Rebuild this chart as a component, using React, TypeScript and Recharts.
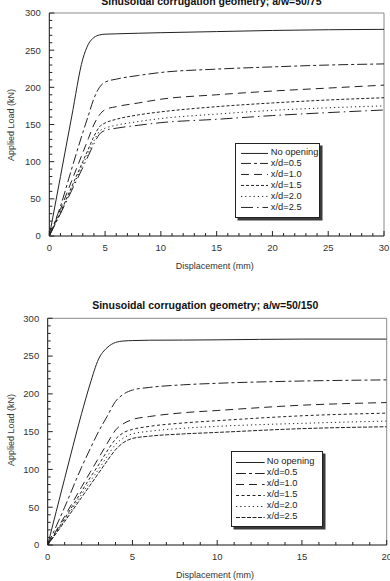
import React from 'react';
import { LineChart, Line, XAxis, YAxis, ReferenceLine, Legend } from 'recharts';

const FONT = '"Liberation Sans", Arial, Helvetica, sans-serif';

// ---- a/w = 50/75 : displacement (mm) and applied load (kN) ----
const dispA = [0, 1, 2, 3, 3.5, 4, 4.5, 5, 6, 8, 10, 15, 20, 25, 30];
const noOpeningA = [0, 80, 160, 238, 258, 267, 270.5, 271.5, 272, 272.8, 273.5, 275, 276.5, 277.5, 278];
const xd05A = [0, 40, 90, 139, 162, 185, 200, 207, 211, 216, 220, 224.5, 227.5, 230, 231.5];
const xd10A = [0, 36, 74, 112, 131, 150, 163, 170, 174, 179, 184, 190, 195, 199, 203];
const xd15A = [0, 32, 66, 100, 117, 134, 147, 152, 157, 163, 167, 174, 179, 183, 186];
const xd20A = [0, 31, 63, 96, 112, 128, 141, 145, 149, 154, 158, 164, 169, 172.5, 175];
const xd25A = [0, 30, 61, 92, 108, 124, 137, 142, 145, 149, 152.5, 157, 162, 166, 169.5];

// ---- a/w = 50/150 ----
const dispB = [0, 1, 2, 2.5, 3, 3.5, 4, 4.5, 5, 6, 8, 10, 15, 20];
const noOpeningB = [0, 88, 174, 213, 246, 261, 268, 270, 270.5, 271, 271.2, 271.5, 272.5, 272.5];
const xd05B = [0, 50, 103, 127, 150, 170, 190, 200, 205, 208.5, 212, 214, 217, 218.5];
const xd10B = [0, 38, 77, 96, 115, 134, 152, 161, 166, 170, 175, 178, 185, 188.5];
const xd15B = [0, 35, 71, 89, 106, 124, 140, 149, 153, 157, 161.5, 164.5, 171, 174.5];
const xd20B = [0, 33, 67, 84, 100, 117, 133, 142, 147, 150.5, 154.5, 157, 161, 164];
const xd25B = [0, 31, 63, 79, 95, 111, 126, 136, 141, 144, 147, 149, 154, 156.5];

const seriesNames = ['No opening', 'x/d=0.5', 'x/d=1.0', 'x/d=1.5', 'x/d=2.0', 'x/d=2.5'];
const dashesA = ['', '10 3 3 3', '8 5', '3 2', '1.2 3', '12 4 1.5 4'];
const dashesB = ['', '10 3 3 3', '8 5', '3 2.5', '1.2 3', '4 1.5'];

const yTicks = Array.from({ length: 31 }, (_, i) => i * 10);
const xTicksA = Array.from({ length: 31 }, (_, i) => i);
const xTicksB = Array.from({ length: 21 }, (_, i) => i);

function buildRows(disp: number[], series: number[][]) {
  return disp.map((x, i) => {
    const row: Record<string, number> = { x };
    series.forEach((s, k) => {
      row['s' + k] = s[i];
    });
    return row;
  });
}

const rowsA = buildRows(dispA, [noOpeningA, xd05A, xd10A, xd15A, xd20A, xd25A]);
const rowsB = buildRows(dispB, [noOpeningB, xd05B, xd10B, xd15B, xd20B, xd25B]);

function XTick(props: any) {
  const { x, y, payload } = props;
  const v = payload.value;
  const major = v % 5 === 0;
  return (
    <g>
      <line x1={x} x2={x} y1={y} y2={y - (major ? 5 : 3)} stroke="#222" strokeWidth={1} />
      {major && (
        <text x={x} y={y + 14.7} textAnchor="middle" fontSize={9.5} fill="#333" fontFamily={FONT}>
          {v}
        </text>
      )}
    </g>
  );
}

function YTick(props: any) {
  const { x, y, payload } = props;
  const v = payload.value;
  const major = v % 50 === 0;
  return (
    <g>
      <line x1={x} x2={x + (major ? 5 : 3)} y1={y} y2={y} stroke="#222" strokeWidth={1} />
      {major && (
        <text x={x - 8.5} y={y + 3.4} textAnchor="end" fontSize={9.5} fill="#333" fontFamily={FONT}>
          {v}
        </text>
      )}
    </g>
  );
}

type LegendBox = {
  left: number; top: number; w: number; h: number;
  padLeft: number; padTop: number; row: number; sample: number; gap: number;
};

type PanelProps = {
  top: number;
  height: number;
  margin: { top: number; right: number; left: number; bottom: number };
  yAxisWidth: number;
  rows: Record<string, number>[];
  xMax: number;
  xTicks: number[];
  dashes: string[];
  title: string;
  titleX: number;
  titleTop: number;
  xTitleX: number;
  xTitleTop: number;
  yTitleX: number;
  yTitleY: number;
  legend: LegendBox;
};

function Panel(p: PanelProps) {
  const lg = p.legend;
  const legendContent = () => (
    <div
      style={{
        width: lg.w,
        height: lg.h,
        boxSizing: 'border-box',
        border: '1.2px solid #222',
        boxShadow: '2.5px 2.5px 0 #3a3a3a',
        background: '#fff',
        paddingTop: lg.padTop,
        paddingLeft: lg.padLeft,
        fontFamily: FONT,
      }}
    >
      {seriesNames.map((name, k) => (
        <div key={name} style={{ display: 'flex', alignItems: 'center', height: lg.row }}>
          <svg width={lg.sample} height={lg.row} style={{ display: 'block' }}>
            <line
              x1={0}
              x2={lg.sample}
              y1={lg.row / 2}
              y2={lg.row / 2}
              stroke="#222"
              strokeWidth={1}
              strokeDasharray={p.dashes[k] || undefined}
            />
          </svg>
          <span style={{ marginLeft: lg.gap, fontSize: 9.3, color: '#222', lineHeight: 1, whiteSpace: 'nowrap' }}>
            {name}
          </span>
        </div>
      ))}
    </div>
  );

  return (
    <div style={{ position: 'absolute', left: 0, top: p.top, width: 390, height: p.height }}>
      <LineChart width={390} height={p.height} data={p.rows} margin={p.margin}>
        <XAxis
          dataKey="x"
          type="number"
          domain={[0, p.xMax]}
          ticks={p.xTicks}
          interval={0}
          tickSize={0}
          tickMargin={0}
          height={30}
          tick={<XTick />}
          tickLine={false}
          axisLine={{ stroke: '#111', strokeWidth: 1 }}
          allowDataOverflow
        />
        <YAxis
          type="number"
          domain={[0, 300]}
          ticks={yTicks}
          interval={0}
          tickSize={0}
          tickMargin={0}
          width={p.yAxisWidth}
          tick={<YTick />}
          tickLine={false}
          axisLine={{ stroke: '#111', strokeWidth: 1 }}
          allowDataOverflow
        />
        <ReferenceLine y={300} stroke="#8a8a8a" strokeWidth={1} />
        <ReferenceLine x={p.xMax} stroke="#8a8a8a" strokeWidth={1} />
        {seriesNames.map((name, k) => (
          <Line
            key={name}
            name={name}
            dataKey={'s' + k}
            type="monotone"
            stroke="#222"
            strokeWidth={1}
            strokeDasharray={p.dashes[k] || undefined}
            dot={false}
            activeDot={false}
            isAnimationActive={false}
          />
        ))}
        <Legend
          layout="horizontal"
          verticalAlign="middle"
          align="center"
          content={legendContent}
          wrapperStyle={{ left: lg.left, top: lg.top, width: lg.w, height: lg.h, margin: 0 }}
        />
      </LineChart>
      <div
        style={{
          position: 'absolute',
          left: p.titleX,
          top: p.titleTop,
          transform: 'translateX(-50%)',
          fontSize: 10.5,
          lineHeight: '10.5px',
          fontWeight: 'bold',
          color: '#111',
          whiteSpace: 'nowrap',
          fontFamily: FONT,
        }}
      >
        {p.title}
      </div>
      <div
        style={{
          position: 'absolute',
          left: p.xTitleX,
          top: p.xTitleTop,
          transform: 'translateX(-50%)',
          fontSize: 9,
          lineHeight: '9px',
          color: '#333',
          whiteSpace: 'nowrap',
          fontFamily: FONT,
        }}
      >
        Displacement (mm)
      </div>
      <div
        style={{
          position: 'absolute',
          left: p.yTitleX,
          top: p.yTitleY,
          transform: 'translate(-50%, -50%) rotate(-90deg)',
          fontSize: 9,
          lineHeight: '9px',
          color: '#333',
          whiteSpace: 'nowrap',
          fontFamily: FONT,
        }}
      >
        Applied Load (kN)
      </div>
    </div>
  );
}

export default function App() {
  return (
    <div
      style={{
        position: 'fixed',
        left: 0,
        top: 0,
        width: 390,
        height: 581,
        overflow: 'hidden',
        background: '#fff',
        fontFamily: FONT,
      }}
    >
      <Panel
        top={0}
        height={290}
        margin={{ top: 13, right: 6, left: 0, bottom: 24 }}
        yAxisWidth={49.3}
        rows={rowsA}
        xMax={30}
        xTicks={xTicksA}
        dashes={dashesA}
        title="Sinusoidal corrugation geometry; a/w=50/75"
        titleX={211.4}
        titleTop={-4.4}
        xTitleX={214.7}
        xTitleTop={261.7}
        yTitleX={11}
        yTitleY={124.5}
        legend={{ left: 235, top: 143, w: 85, h: 75, padLeft: 4.8, padTop: 3.6, row: 10.9, sample: 27, gap: 3 }}
      />
      <Panel
        top={290}
        height={291}
        margin={{ top: 28.3, right: 3.3, left: 0, bottom: 6 }}
        yAxisWidth={47.7}
        rows={rowsB}
        xMax={20}
        xTicks={xTicksB}
        dashes={dashesB}
        title="Sinusoidal corrugation geometry; a/w=50/150"
        titleX={205.2}
        titleTop={10.4}
        xTitleX={215}
        xTitleTop={280.7}
        yTitleX={10.7}
        yTitleY={140}
        legend={{ left: 231, top: 161, w: 92, h: 76, padLeft: 4.1, padTop: 4.6, row: 11, sample: 28.7, gap: 2 }}
      />
    </div>
  );
}
